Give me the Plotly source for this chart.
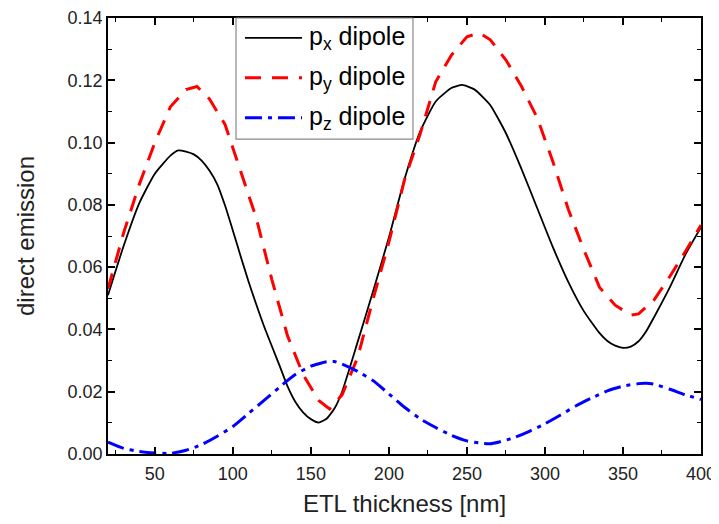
import plotly.graph_objects as go

# ---- data ----
px_thickness = [20, 30, 40, 50, 60, 65, 70, 75, 80, 85, 90, 95, 100, 105, 110, 120, 130, 135, 140,
                145, 150, 155, 160, 165, 170, 180, 190, 200, 210, 220, 230, 240, 247, 255, 265, 275,
                285, 295, 305, 315, 325, 335, 340, 345, 350, 355, 360, 365, 370, 380, 390, 400]
px_emission = [0.0510, 0.0668, 0.0805, 0.0900, 0.0958, 0.0975, 0.0971, 0.0962, 0.0942, 0.0910,
               0.0866, 0.0798, 0.0718, 0.0635, 0.0555, 0.0410, 0.0283, 0.0218, 0.0168, 0.0134,
               0.0112, 0.0101, 0.0113, 0.0145, 0.0200, 0.0360, 0.0525, 0.0695, 0.0882, 0.1035,
               0.1132, 0.1175, 0.1185, 0.1170, 0.1120, 0.1030, 0.0915, 0.0790, 0.0665, 0.0552,
               0.0458, 0.0388, 0.0363, 0.0348, 0.0341, 0.0345, 0.0362, 0.0395, 0.0440, 0.0535,
               0.0640, 0.0728]

py_thickness = [20, 30, 40, 50, 60, 70, 77, 85, 95, 105, 115, 125, 135, 145, 155, 162, 170, 180,
                190, 200, 210, 220, 230, 240, 250, 258, 265, 275, 285, 295, 305, 315, 325, 335,
                345, 355, 360, 370, 380, 390, 400]
py_emission = [0.0530, 0.0710, 0.0865, 0.1000, 0.1115, 0.1170, 0.1180, 0.1140, 0.1058, 0.0910,
               0.0758, 0.0560, 0.0380, 0.0255, 0.0172, 0.0145, 0.0190, 0.0310, 0.0500, 0.0680,
               0.0880, 0.1027, 0.1195, 0.1280, 0.1340, 0.1352, 0.1330, 0.1265, 0.1180, 0.1080,
               0.0940, 0.0785, 0.0655, 0.0535, 0.0478, 0.0446, 0.0450, 0.0495, 0.0570, 0.0650,
               0.0735]

pz_thickness = [20, 30, 40, 50, 60, 70, 80, 90, 100, 110, 120, 130, 140, 150, 160, 165, 170, 180,
                190, 200, 210, 220, 230, 240, 250, 260, 265, 270, 280, 290, 300, 310, 320, 330,
                340, 350, 360, 365, 370, 380, 390, 400]
pz_emission = [0.0038, 0.0018, 0.0008, 0.0003, 0.0002, 0.0012, 0.0030, 0.0057, 0.0088, 0.0130,
               0.0172, 0.0215, 0.0255, 0.0282, 0.0296, 0.0297, 0.0289, 0.0265, 0.0235, 0.0193,
               0.0150, 0.0113, 0.0085, 0.0060, 0.0042, 0.0034, 0.0033, 0.0038, 0.0052, 0.0073,
               0.0097, 0.0125, 0.0155, 0.0180, 0.0203, 0.0218, 0.0226, 0.0227, 0.0224, 0.0208,
               0.0190, 0.0175]

legend_names = ["p<sub>x</sub> dipole", "p<sub>y</sub> dipole", "p<sub>z</sub> dipole"]
x_title = "ETL thickness [nm]"
y_title = "direct emission"

# ---- styles ----
FONT = "Liberation Sans, Arial, sans-serif"
styles = [
    dict(color="black", width=1.8, dash="solid", shape="spline"),
    dict(color="#ff0000", width=3, dash="16px,11px", shape="linear"),
    dict(color="#0000ff", width=3, dash="17px,6px,4px,6px", shape="spline"),
]

fig = go.Figure()
for xs, ys, st, name in zip([px_thickness, py_thickness, pz_thickness],
                            [px_emission, py_emission, pz_emission], styles, legend_names):
    fig.add_trace(go.Scatter(x=xs, y=ys, mode="lines", name=name, showlegend=False,
                             line=dict(color=st["color"], width=st["width"], dash=st["dash"],
                                       shape=st["shape"], smoothing=0.5)))

# ---- legend drawn as box + sample lines + text ----
leg_x0, leg_x1, leg_y0, leg_y1 = 0.2159, 0.5143, 0.722, 1.0
row_y = [0.9543, 0.8629, 0.7715]
line_x0, line_x1, text_x = 0.231, 0.3272, 0.336
fig.add_shape(type="rect", xref="paper", yref="paper", x0=leg_x0, x1=leg_x1, y0=leg_y0, y1=leg_y1,
              line=dict(color="#888888", width=1.2), fillcolor="white", layer="above")
for yy, st, name in zip(row_y, styles, legend_names):
    fig.add_shape(type="line", xref="paper", yref="paper", x0=line_x0, x1=line_x1, y0=yy, y1=yy,
                  line=dict(color=st["color"], width=st["width"], dash=st["dash"]), layer="above")
    fig.add_annotation(xref="paper", yref="paper", x=text_x, y=yy, text=name, showarrow=False,
                       xanchor="left", yanchor="middle", font=dict(family=FONT, size=25, color="black"))

axis_common = dict(showline=True, linecolor="black", linewidth=1.5, mirror="allticks",
                   ticks="inside", ticklen=7, tickwidth=1.5, tickcolor="black",
                   showgrid=False, zeroline=False, ticklabeloverflow="allow",
                   tickfont=dict(family=FONT, size=18, color="#222222"))

fig.update_xaxes(range=[20, 400], tick0=0, dtick=50, ticklabelstandoff=3, **axis_common,
                 minor=dict(ticks="inside", ticklen=4, tickwidth=1.2, tickcolor="black", dtick=25, tick0=0),
                 title=dict(text=x_title, font=dict(family=FONT, size=24, color="#222222"), standoff=12))
fig.update_yaxes(range=[0, 0.14], tick0=0, dtick=0.02, tickformat=".2f", **axis_common,
                 minor=dict(ticks="inside", ticklen=4, tickwidth=1.2, tickcolor="black", dtick=0.01, tick0=0),
                 title=dict(text=y_title, font=dict(family=FONT, size=24, color="#222222"), standoff=26))

# page body adds an 8px offset, so margins are shifted to keep the plot area where the reference has it
fig.update_layout(width=719, height=524, margin=dict(l=100, r=26, t=10, b=78, autoexpand=False),
                  paper_bgcolor="white", plot_bgcolor="white", showlegend=False)

fig.write_html("out.html")
